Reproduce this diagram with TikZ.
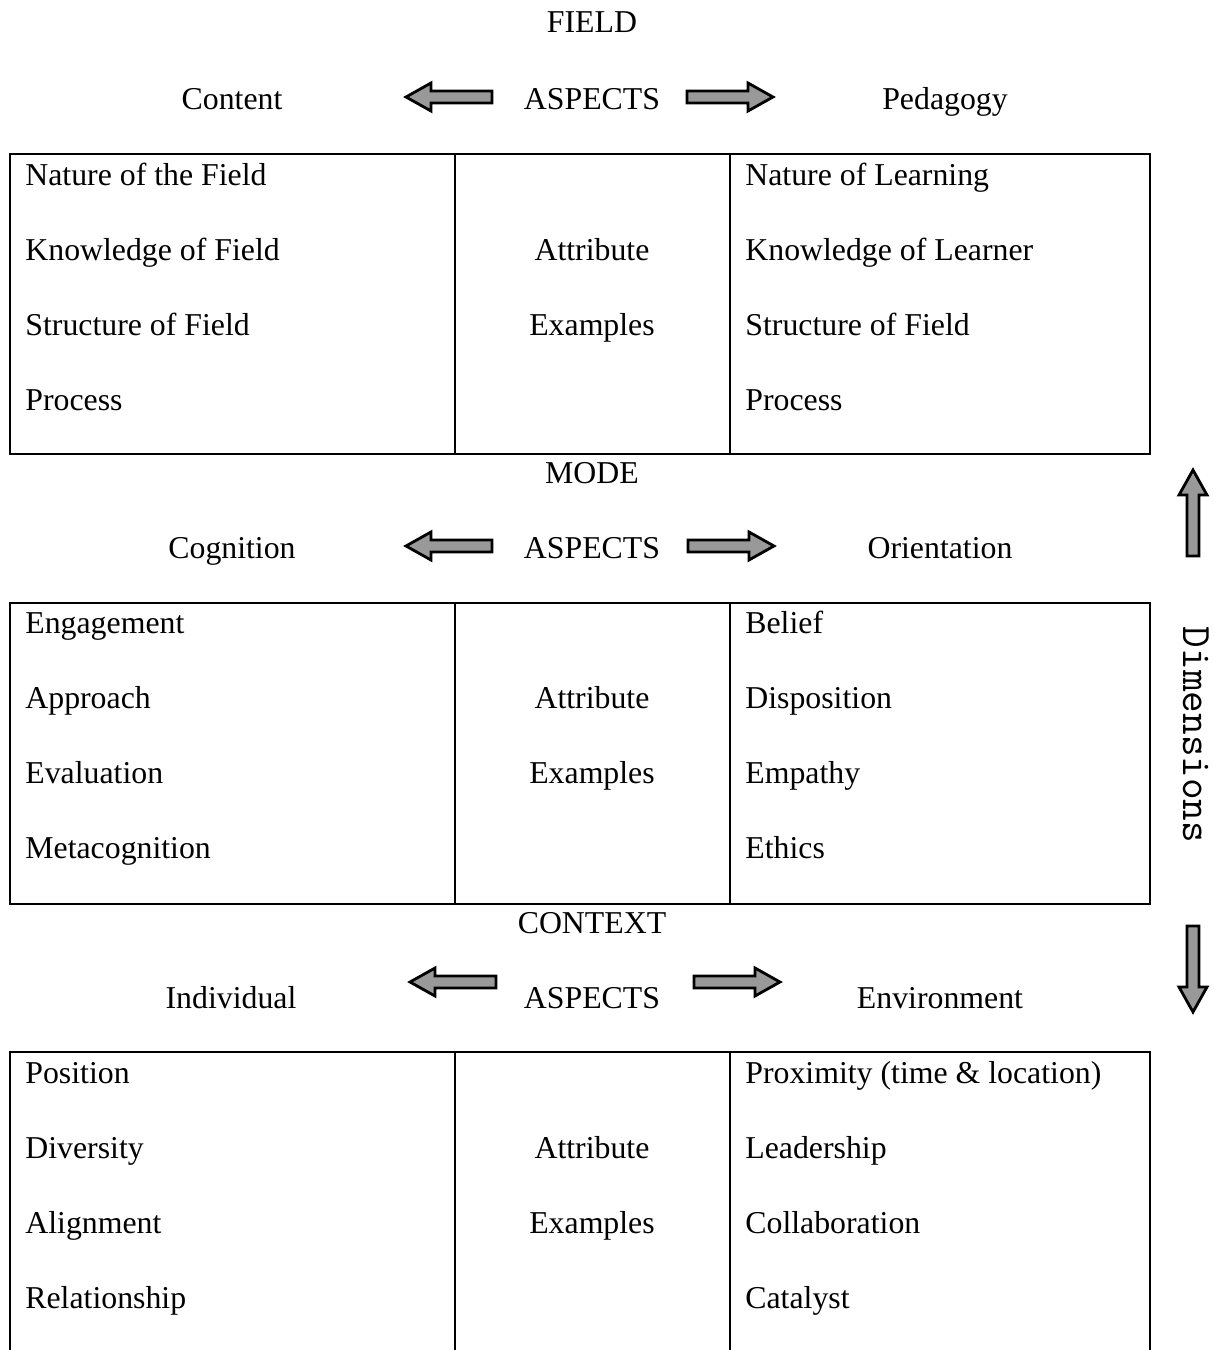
\documentclass[tikz,border=0pt]{standalone}
\usepackage{fontspec}
\setmainfont{Liberation Serif}
\begin{document}
\begin{tikzpicture}[x=0.5pt,y=-0.5pt,
		every node/.style={font=\fontsize{15.9}{19}\selectfont, inner sep=0pt},
		item/.style={anchor=base west},
		mid/.style={anchor=base},
		frame/.style={line width=1pt},
		blkarrow/.pic={\draw[fill=gray!80, line width=1.4pt, line join=miter] (-43,-6) -- (18,-6) -- (18,-14) -- (43,0) -- (18,14) -- (18,6) -- (-43,6) -- cycle;}]
		\useasboundingbox (0,0) rectangle (1214,1350);
		% field
		\node[mid] (field) at (592,32) {FIELD};
		\node[mid] (content) at (232,109) {Content};
		\node[mid] (aspectsA) at (592,109) {ASPECTS};
		\node[mid] (pedagogy) at (945,109) {Pedagogy};
		\pic[rotate=180] at (449,97) {blkarrow};
		\pic at (730,97) {blkarrow};
		\draw[frame] (10,154) rectangle (1150,454);
		\draw[frame] (455,154) -- (455,454) (730,154) -- (730,454);
		\foreach \txt [count=\i] in {Nature of the Field, Knowledge of Field, Structure of Field, Process}
			\node[item] (fieldL\i) at (25,110+75*\i) {\txt};
		\foreach \txt [count=\i] in {Nature of Learning, Knowledge of Learner, Structure of Field, Process}
			\node[item] (fieldR\i) at (745,110+75*\i) {\txt};
		\node[mid] (attrA) at (592,260) {Attribute};
		\node[mid] (examA) at (592,335) {Examples};
		% mode
		\node[mid] (mode) at (592,483) {MODE};
		\node[mid] (cognition) at (232,558) {Cognition};
		\node[mid] (aspectsB) at (592,558) {ASPECTS};
		\node[mid] (orientation) at (940,558) {Orientation};
		\pic[rotate=180] at (449,546) {blkarrow};
		\pic at (731,546) {blkarrow};
		\draw[frame] (10,603) rectangle (1150,904);
		\draw[frame] (455,603) -- (455,904) (730,603) -- (730,904);
		\foreach \txt [count=\i] in {Engagement, Approach, Evaluation, Metacognition}
			\node[item] (modeL\i) at (25,558+75*\i) {\txt};
		\foreach \txt [count=\i] in {Belief, Disposition, Empathy, Ethics}
			\node[item] (modeR\i) at (745,558+75*\i) {\txt};
		\node[mid] (attrB) at (592,708) {Attribute};
		\node[mid] (examB) at (592,783) {Examples};
		% context
		\node[mid] (context) at (592,933) {CONTEXT};
		\node[mid] (individual) at (231,1008) {Individual};
		\node[mid] (aspectsC) at (592,1008) {ASPECTS};
		\node[mid] (environment) at (940,1008) {Environment};
		\pic[rotate=180] at (453,982) {blkarrow};
		\pic at (737,982) {blkarrow};
		\draw[frame] (10,1350) -- (10,1052) -- (1150,1052) -- (1150,1350);
		\draw[frame] (455,1052) -- (455,1350) (730,1052) -- (730,1350);
		\foreach \txt [count=\i] in {Position, Diversity, Alignment, Relationship}
			\node[item] (ctxL\i) at (25,1008+75*\i) {\txt};
		\foreach \txt [count=\i] in {Proximity (time \& location), Leadership, Collaboration, Catalyst}
			\node[item] (ctxR\i) at (745,1008+75*\i) {\txt};
		\node[mid] (attrC) at (592,1158) {Attribute};
		\node[mid] (examC) at (592,1233) {Examples};
		% dimensions
		\pic[rotate=90] at (1193,513) {blkarrow};
		\pic[rotate=-90] at (1193,969) {blkarrow};
		\node[rotate=-90, font=\ttfamily\fontsize{21}{24}\selectfont] (dims) at (1196,735) {Dimensions};
	\end{tikzpicture}
\end{document}
